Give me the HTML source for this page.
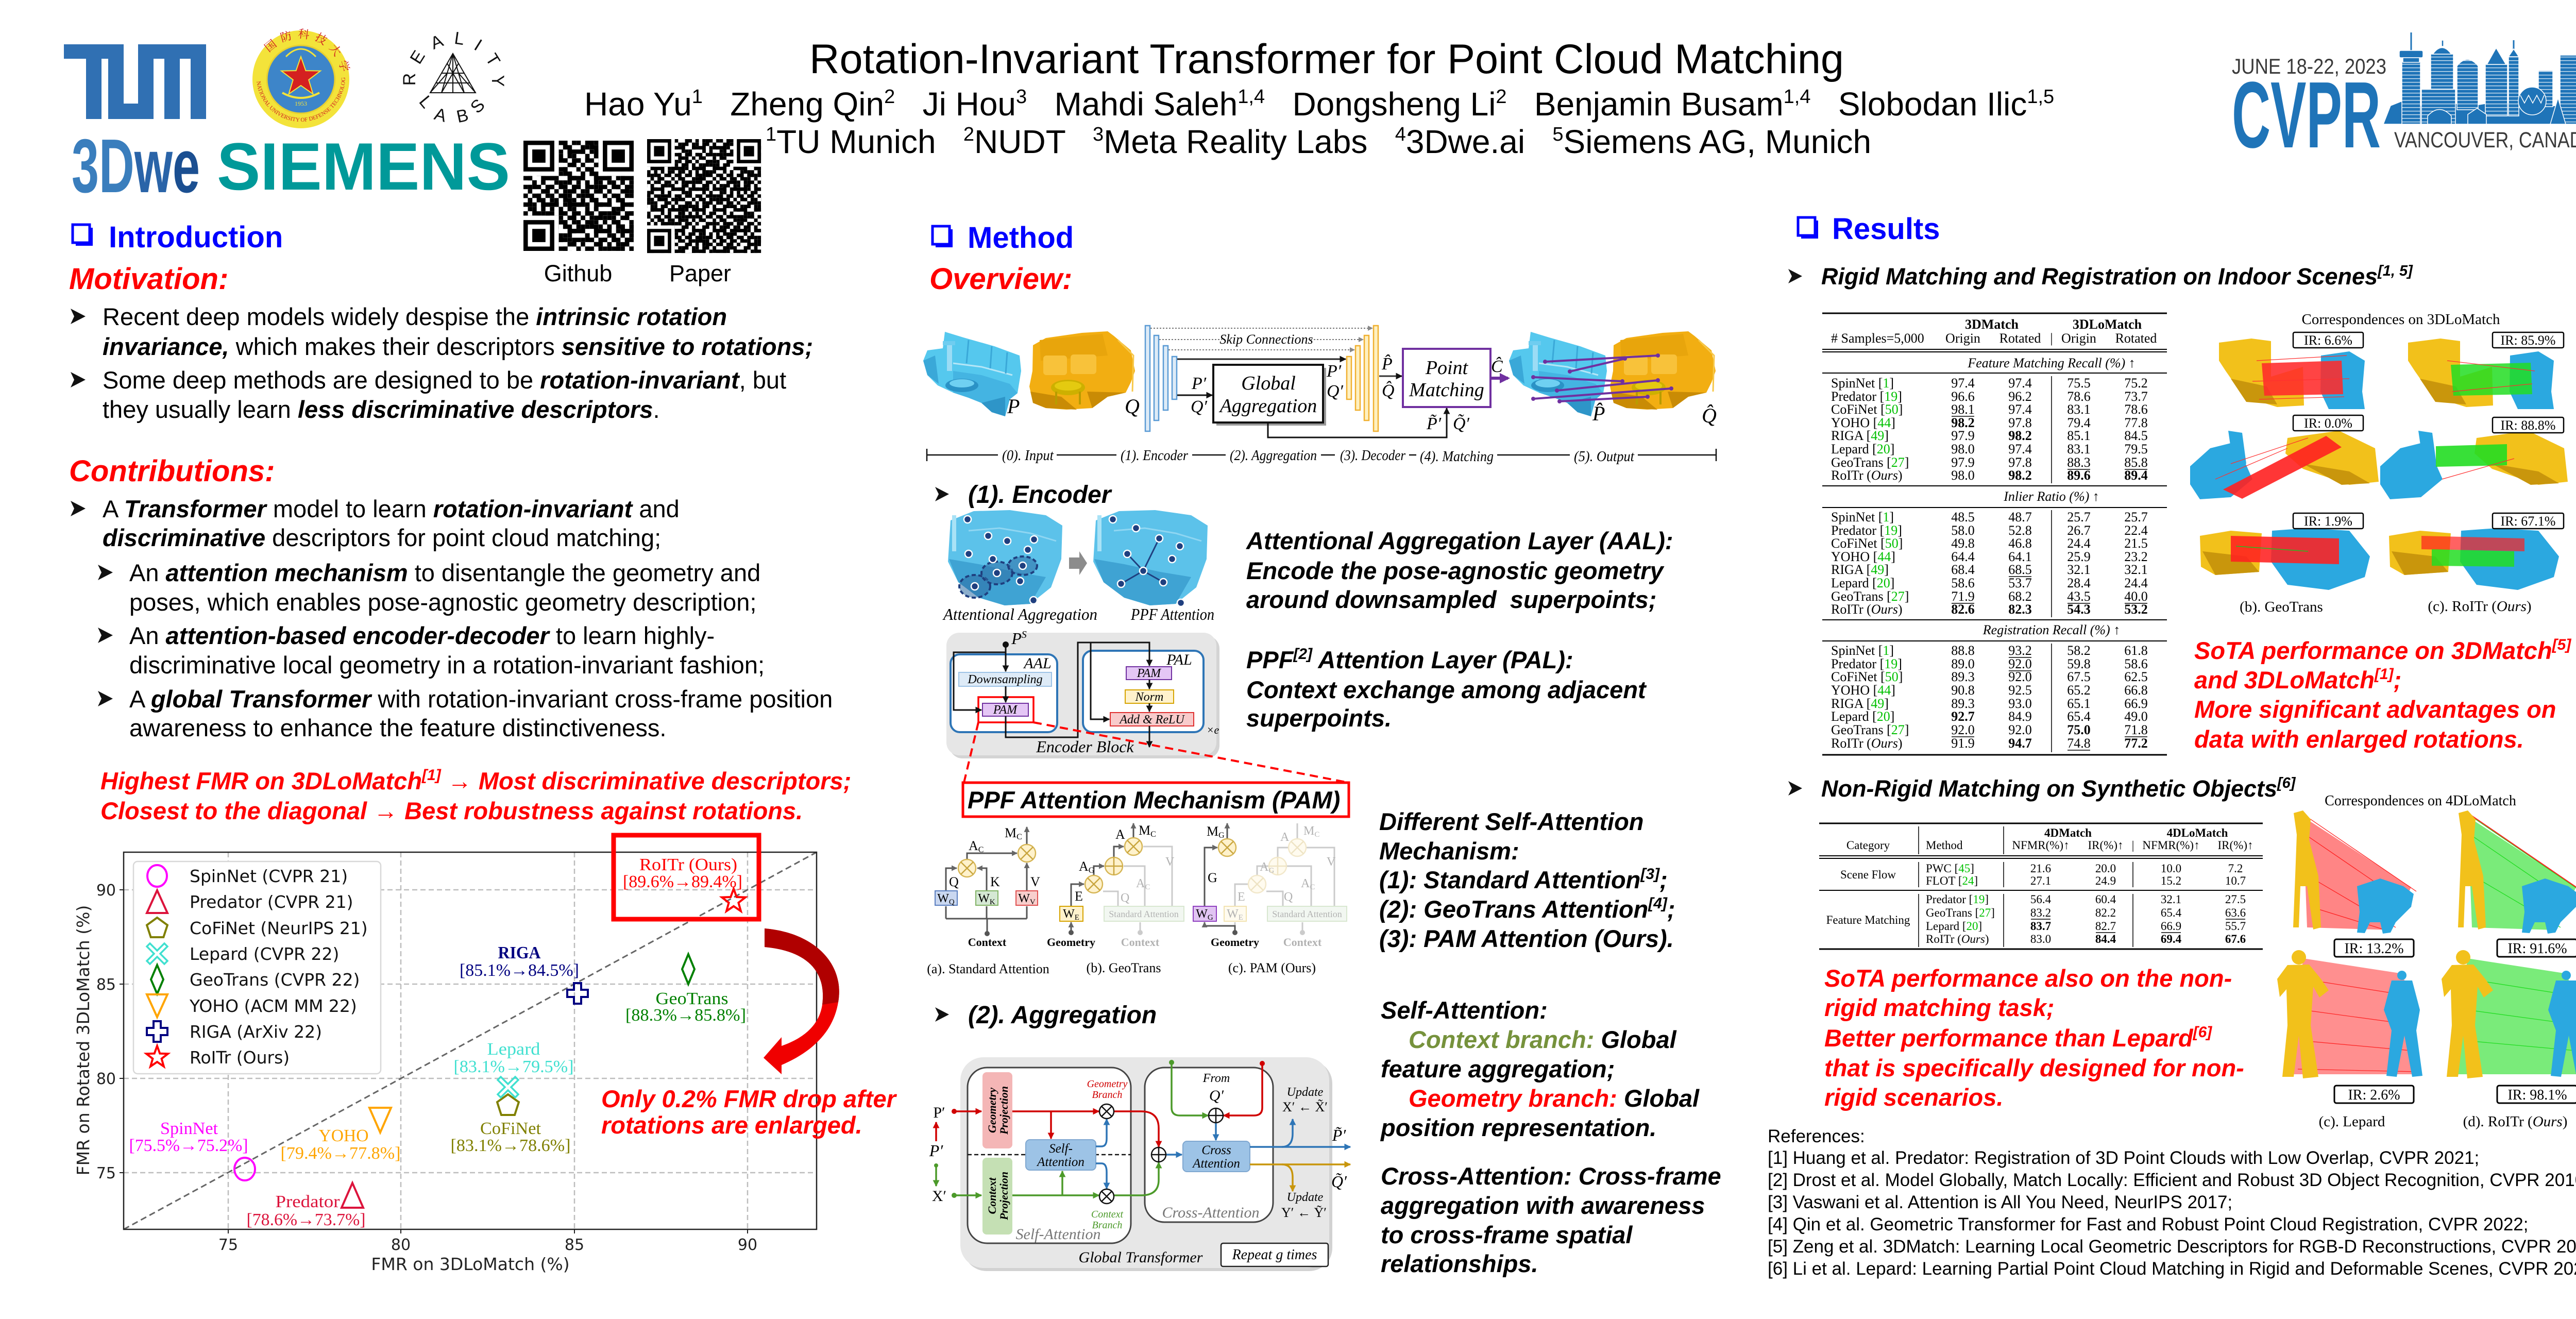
<!DOCTYPE html>
<html><head><meta charset="utf-8"><title>Rotation-Invariant Transformer for Point Cloud Matching</title>
<style>
html,body{margin:0;padding:0;background:#fff;width:5120px;height:2560px;overflow:hidden}
svg{display:block}
.s{font-family:"Liberation Sans",Arial,sans-serif}
.r{font-family:"Liberation Serif","Times New Roman",serif}
.d{font-family:"DejaVu Sans",sans-serif}
.bi{font-weight:bold;font-style:italic}
.b{font-weight:bold}
.i{font-style:italic}
.pre{white-space:pre}
</style></head><body>
<svg xmlns="http://www.w3.org/2000/svg" xmlns:xlink="http://www.w3.org/1999/xlink" width="5120" height="2560" viewBox="0 0 5120 2560">
<defs>
<marker id="mk" viewBox="0 0 10 10" refX="9" refY="5" markerWidth="13" markerHeight="13" markerUnits="userSpaceOnUse" orient="auto"><path d="M0,0L10,5L0,10z" fill="#111"/></marker>
<marker id="mr" viewBox="0 0 10 10" refX="9" refY="5" markerWidth="13" markerHeight="13" markerUnits="userSpaceOnUse" orient="auto"><path d="M0,0L10,5L0,10z" fill="#D00000"/></marker>
<marker id="mg" viewBox="0 0 10 10" refX="9" refY="5" markerWidth="13" markerHeight="13" markerUnits="userSpaceOnUse" orient="auto"><path d="M0,0L10,5L0,10z" fill="#4C9A2A"/></marker>
<marker id="mb" viewBox="0 0 10 10" refX="9" refY="5" markerWidth="13" markerHeight="13" markerUnits="userSpaceOnUse" orient="auto"><path d="M0,0L10,5L0,10z" fill="#2E75B6"/></marker>
<marker id="mo" viewBox="0 0 10 10" refX="9" refY="5" markerWidth="13" markerHeight="13" markerUnits="userSpaceOnUse" orient="auto"><path d="M0,0L10,5L0,10z" fill="#C8960C"/></marker>
<marker id="mp" viewBox="0 0 10 10" refX="8" refY="5" markerWidth="20" markerHeight="20" markerUnits="userSpaceOnUse" orient="auto"><path d="M0,0L10,5L0,10z" fill="#7030A0"/></marker>
<marker id="my" viewBox="0 0 10 10" refX="9" refY="5" markerWidth="11" markerHeight="11" markerUnits="userSpaceOnUse" orient="auto"><path d="M0,0L10,5L0,10z" fill="#666"/></marker>
<marker id="mgr" viewBox="0 0 10 10" refX="9" refY="5" markerWidth="10" markerHeight="10" markerUnits="userSpaceOnUse" orient="auto"><path d="M0,0L10,5L0,10z" fill="#888"/></marker>

<pattern id="qa" width="6" height="6" patternUnits="userSpaceOnUse"><path d="M0 0h1v1h-1zM2 0h2v1h-2zM1 1h1v1h-1zM3 1h2v1h-2zM0 2h2v1h-2zM4 2h2v1h-2zM2 3h1v1h-1zM4 3h1v1h-1zM0 4h1v1h-1zM2 4h2v1h-2zM5 4h1v1h-1zM1 5h1v1h-1zM4 5h2v1h-2z" fill="#000"/></pattern>
<pattern id="qb" width="5" height="5" patternUnits="userSpaceOnUse"><path d="M1 0h1v1h-1zM4 1h1v1h-1zM0 2h1v1h-1zM3 2h1v1h-1zM2 4h1v1h-1zM4 4h1v1h-1zM1 3h1v1h-1z" fill="#000"/></pattern>
<pattern id="win" width="8" height="7" patternUnits="userSpaceOnUse"><rect width="8" height="7" fill="#1F74B8"/><rect y="5" width="8" height="1.3" fill="#fff" opacity="0.85"/></pattern>

<g id="arw"><path d="M0,-15 L29,0 L0,15 L7,0 Z" fill="#111"/></g>
<g id="arwS"><path d="M0,-14 L27,0 L0,14 L7,0 Z" fill="#111"/></g>

<g id="otY"><circle r="17" fill="#FFF2CC" stroke="#D6B656" stroke-width="2.5"/><path d="M-12,-12L12,12M12,-12L-12,12" stroke="#C9A640" stroke-width="2.5"/></g>
<g id="opY"><circle r="17" fill="#FFF2CC" stroke="#D6B656" stroke-width="2.5"/><path d="M-17,0H17M0,-17V17" stroke="#C9A640" stroke-width="2.5"/></g>
<g id="otK"><circle r="14" fill="#fff" stroke="#111" stroke-width="2.5"/><path d="M-10,-10L10,10M10,-10L-10,10" stroke="#111" stroke-width="2.5"/></g>
<g id="opK"><circle r="14" fill="#fff" stroke="#111" stroke-width="2.5"/><path d="M-14,0H14M0,-14V14" stroke="#111" stroke-width="2.5"/></g>

<g id="pcl">
<polygon points="1834,644 1870,655 1930,672 1979,690 1982,720 1975,763 1960,775 1951,808 1925,800 1905,782 1880,772 1850,762 1820,748 1800,728 1792,700 1800,680 1830,676" fill="#55C8EE"/>
<polygon points="1792,700 1815,690 1822,745 1800,728" fill="#3AA8D8"/>
<polygon points="1850,720 1905,728 1960,745 1975,763 1960,775 1951,808 1925,800 1905,782 1880,772 1850,762" fill="#44B4E2"/>
<polygon points="1905,782 1951,770 1951,808 1925,800" fill="#2E95C8"/>
<ellipse cx="1867" cy="748" rx="32" ry="13" fill="#2A92C6"/>
<ellipse cx="1867" cy="744" rx="24" ry="8" fill="#6FD0F2"/>
<rect x="1838" y="665" width="10" height="55" fill="#9BDCF5"/>
<rect x="1830" y="662" width="24" height="8" fill="#6FCDF0"/>
<polyline points="1850,705 1905,712 1965,728" stroke="#B5E6F7" stroke-width="3" fill="none"/>
<path d="M1880,660 L1876,705 M1925,672 L1922,715 M1955,684 L1952,725" stroke="#3AA8D8" stroke-width="3" fill="none"/>
</g>
<g id="qcl">
<polygon points="2005,670 2030,656 2100,646 2150,643 2162,652 2195,680 2203,720 2195,742 2185,762 2150,770 2120,792 2070,795 2030,792 2005,782 1998,750 2004,720" fill="#F2AE12"/>
<polygon points="2018,660 2140,648 2150,690 2020,700" fill="#E8A50C"/>
<rect x="2025" y="690" width="46" height="38" rx="6" fill="#F8C23A"/>
<rect x="2078" y="688" width="50" height="38" rx="6" fill="#F8C23A"/>
<polygon points="2000,760 2060,770 2090,795 2030,792 2005,782" fill="#C98B05"/>
<polygon points="2110,760 2185,762 2150,770 2120,792" fill="#C98B05"/>
<ellipse cx="2073" cy="752" rx="33" ry="15" fill="#CDB000"/>
<ellipse cx="2073" cy="749" rx="26" ry="9" fill="#E4CA10"/>
<path d="M2050,760 V785 M2096,760 V785" stroke="#B89C00" stroke-width="4"/>
<path d="M2170,660 L2200,690 L2198,760" stroke="#F7C84A" stroke-width="3" fill="none"/>
</g>
<g id="enc1">
<polygon points="1845,1010 1890,992 1960,990 2030,1000 2062,1020 2060,1085 2040,1140 2000,1172 1950,1175 1900,1160 1860,1130 1840,1090" fill="#5CC2EA"/>
<polygon points="1842,1085 1900,1095 1970,1110 2030,1120 2000,1172 1950,1175 1900,1160 1860,1130" fill="#3FA3D3"/>
<rect x="1848" y="1000" width="8" height="70" fill="#A9E2F6"/>
<polyline points="1880,1030 1940,1025 2000,1035 2050,1050" stroke="#8FD6F2" stroke-width="3" fill="none"/>
</g>
</defs>

<rect width="5120" height="2560" fill="#fff"/>

<!-- ================= HEADER ================= -->
<g fill="#3070B3">
<rect x="124" y="86" width="116" height="28"/>
<rect x="167" y="86" width="30" height="145"/>
<rect x="210" y="86" width="30" height="145"/>
<rect x="210" y="201" width="88" height="30"/>
<rect x="268" y="86" width="30" height="145"/>
<rect x="268" y="86" width="132" height="28"/>
<rect x="319" y="86" width="30" height="145"/>
<rect x="370" y="86" width="30" height="145"/>
</g>
<g>
<ellipse cx="584" cy="154" rx="94" ry="95" fill="#F3E33A"/>
<circle cx="584" cy="154" r="66" fill="#3D85C9" stroke="#E8D030" stroke-width="3"/>
<path d="M548,180 Q584,200 620,180" stroke="#F3E33A" stroke-width="4" fill="none"/>
<path d="M555,110 Q584,80 613,110" stroke="#F3E33A" stroke-width="3" fill="none"/>
<polygon points="584,110 593.4,137.1 622,137.6 599.2,154.9 607.5,182.4 584,166 560.5,182.4 568.8,154.9 546,137.6 574.6,137.1" fill="#D42020" stroke="#F3E33A" stroke-width="2"/>
<text class="r" x="584" y="205" font-size="12" fill="#F3E33A" text-anchor="middle">1953</text>
<path id="nudtc" d="M 504,154 A 80,80 0 1,1 664,154" fill="none"/>
<path id="nudtb" d="M 498,150 A 86,86 0 0,0 670,150" fill="none"/>
<text font-size="22" fill="#D02020" style='font-family:"Liberation Serif","Noto Serif CJK SC",serif' letter-spacing="10"><textPath href="#nudtc" startOffset="22%">国防科技大学</textPath></text>
<text class="r" font-size="11" fill="#D02020"><textPath href="#nudtb" startOffset="3%">NATIONAL UNIVERSITY OF DEFENSE TECHNOLOGY</textPath></text>
</g>
<g class="s" font-size="34" fill="#111" text-anchor="middle">
<path d="M835,180 L879,104 L923,180 Z M879,104 L857,180 M879,104 L901,180 M879,104 L879,180 M846,161 L912,161 M857,142 L901,142 M835,180 L868,142 M923,180 L890,142 M857,180 L890,123 M901,180 L868,123" stroke="#111" stroke-width="2" fill="none"/>
<text transform="translate(806,154) rotate(-90)">R</text>
<text transform="translate(820,117) rotate(-58)">E</text>
<text transform="translate(852,92) rotate(-22)">A</text>
<text transform="translate(890,86) rotate(8)">L</text>
<text transform="translate(922,97) rotate(32)">I</text>
<text transform="translate(947,122) rotate(58)">T</text>
<text transform="translate(955,157) rotate(90)">Y</text>
<text transform="translate(818,205) rotate(50)">L</text>
<text transform="translate(852,234) rotate(15)">A</text>
<text transform="translate(900,236) rotate(-12)">B</text>
<text transform="translate(935,214) rotate(-45)">S</text>
</g>
<text class="s b" x="139" y="373" font-size="148" textLength="249" lengthAdjust="spacingAndGlyphs"><tspan fill="#3A7EBD">3D</tspan><tspan fill="#2A64A8">w</tspan><tspan fill="#1B4F91">e</tspan></text>
<text class="s b" x="421" y="368" font-size="130" fill="#009999" textLength="569" lengthAdjust="spacingAndGlyphs">SIEMENS</text>
<g transform="translate(1016,273) scale(8.56)">
<rect width="25" height="25" fill="url(#qa)"/><rect width="25" height="25" fill="url(#qb)"/>
<rect x="0" y="0" width="8" height="8" fill="#fff"/><rect x="17" y="0" width="8" height="8" fill="#fff"/><rect x="0" y="17" width="8" height="8" fill="#fff"/>
<path d="M0 0h7v7h-7zM1 1v5h5v-5zM18 0h7v7h-7zM19 1v5h5v-5zM0 18h7v7h-7zM1 19v5h5v-5z" fill="#000" fill-rule="evenodd"/>
<rect x="2" y="2" width="3" height="3"/><rect x="20" y="2" width="3" height="3"/><rect x="2" y="20" width="3" height="3"/>
</g>
<g transform="translate(1256,270) scale(6.7)">
<rect width="33" height="33" fill="url(#qb)"/><rect width="33" height="33" fill="url(#qa)" transform="translate(33,0) scale(-1,1)"/>
<rect x="0" y="0" width="8" height="8" fill="#fff"/><rect x="25" y="0" width="8" height="8" fill="#fff"/><rect x="0" y="25" width="8" height="8" fill="#fff"/>
<path d="M0 0h7v7h-7zM1 1v5h5v-5zM26 0h7v7h-7zM27 1v5h5v-5zM0 26h7v7h-7zM1 27v5h5v-5z" fill="#000" fill-rule="evenodd"/>
<rect x="2" y="2" width="3" height="3"/><rect x="28" y="2" width="3" height="3"/><rect x="2" y="28" width="3" height="3"/>
</g>
<text class="s" x="1122" y="546" font-size="45" text-anchor="middle">Github</text>
<text class="s" x="1359" y="546" font-size="45" text-anchor="middle">Paper</text>

<text class="s" x="2575" y="142" font-size="81" text-anchor="middle">Rotation-Invariant Transformer for Point Cloud Matching</text>
<text class="s pre" x="1134" y="224" font-size="64">Hao Yu<tspan font-size="38" dy="-24">1</tspan><tspan dy="24">   Zheng Qin</tspan><tspan font-size="38" dy="-24">2</tspan><tspan dy="24">   Ji Hou</tspan><tspan font-size="38" dy="-24">3</tspan><tspan dy="24">   Mahdi Saleh</tspan><tspan font-size="38" dy="-24">1,4</tspan><tspan dy="24">   Dongsheng Li</tspan><tspan font-size="38" dy="-24">2</tspan><tspan dy="24">   Benjamin Busam</tspan><tspan font-size="38" dy="-24">1,4</tspan><tspan dy="24">   Slobodan Ilic</tspan><tspan font-size="38" dy="-24">1,5</tspan></text>
<text class="s pre" x="1486" y="297" font-size="64"><tspan font-size="38" dy="-24">1</tspan><tspan dy="24">TU Munich   </tspan><tspan font-size="38" dy="-24">2</tspan><tspan dy="24">NUDT   </tspan><tspan font-size="38" dy="-24">3</tspan><tspan dy="24">Meta Reality Labs   </tspan><tspan font-size="38" dy="-24">4</tspan><tspan dy="24">3Dwe.ai   </tspan><tspan font-size="38" dy="-24">5</tspan><tspan dy="24">Siemens AG, Munich</tspan></text>

<text class="s" x="4332" y="143" font-size="42" fill="#3A3A3A" textLength="300" lengthAdjust="spacingAndGlyphs">JUNE 18-22, 2023</text>
<text class="s b" x="4332" y="286" font-size="183" fill="#1F74B8" textLength="289" lengthAdjust="spacingAndGlyphs">CVPR</text>
<text class="s" x="4647" y="286" font-size="43" fill="#3A3A3A" textLength="390" lengthAdjust="spacingAndGlyphs">VANCOUVER, CANADA</text>
<g stroke="#fff" stroke-width="1.5">
<line x1="4680" y1="63" x2="4680" y2="98" stroke="#1F74B8" stroke-width="3"/>
<line x1="4879" y1="78" x2="4879" y2="96" stroke="#1F74B8" stroke-width="3"/>
<polygon points="4626,241 4640,205 4665,195 4700,205 4760,200 4800,205 4830,200 4870,200 4900,208 4960,205 5044,215 5044,241" fill="#1F74B8"/>
<rect x="4662" y="120" width="36" height="121" fill="url(#win)"/>
<rect x="4657" y="98" width="46" height="14" rx="3" fill="#1F74B8"/>
<rect x="4664" y="112" width="32" height="9" fill="#1F74B8"/>
<rect x="4718" y="105" width="44" height="68" fill="url(#win)"/>
<path d="M4722,105 Q4740,80 4758,105 Z" fill="#1F74B8"/>
<rect x="4739" y="78" width="4" height="12" fill="#1F74B8"/>
<rect x="4700" y="173" width="66" height="68" fill="url(#win)"/>
<path d="M4769,213 V128 Q4789,103 4810,128 V213 Z" fill="url(#win)"/>
<rect x="4824" y="125" width="43" height="100" fill="url(#win)"/>
<path d="M4827,125 L4845,93 L4864,125 Z" fill="#1F74B8"/>
<rect x="4869" y="110" width="20" height="115" fill="url(#win)"/>
<path d="M4869,110 L4879,95 L4889,110 Z" fill="#1F74B8"/>
<rect x="4927" y="137" width="28" height="70" fill="url(#win)"/>
<circle cx="4915" cy="196" r="27" fill="#1F74B8"/>
<path d="M4892,185 L4900,200 L4908,185 L4916,200 L4924,185 L4932,200 L4938,185" fill="none"/>
<rect x="4969" y="107" width="38" height="134" fill="url(#win)"/>
<rect x="5002" y="137" width="42" height="104" fill="url(#win)"/>
<path d="M4712,241 V225 Q4735,200 4758,225 V241 Z" fill="#1F74B8"/>
<path d="M4790,241 V222 L4808,210 L4826,222 V241 Z" fill="#1F74B8"/>
<path d="M4950,241 L4965,190 L4980,241 Z" fill="#1F74B8"/>
</g>

<!-- ================= LEFT COLUMN ================= -->
<rect x="147" y="442" width="33" height="35" fill="#0000FF"/>
<rect x="141" y="436" width="33" height="35" fill="#fff" stroke="#0000FF" stroke-width="5"/>
<text class="s b" x="211" y="480" font-size="58" fill="#0000FF">Introduction</text>
<text class="s bi" x="134" y="561" font-size="58" fill="#FF0000">Motivation:</text>

<g class="s" font-size="47" fill="#000">
<use href="#arw" x="137" y="614"/>
<text x="199" y="631">Recent deep models widely despise the <tspan class="bi">intrinsic rotation</tspan></text>
<text x="199" y="689"><tspan class="bi">invariance,</tspan> which makes their descriptors <tspan class="bi">sensitive to rotations;</tspan></text>
<use href="#arw" x="137" y="737"/>
<text x="199" y="754">Some deep methods are designed to be <tspan class="bi">rotation-invariant</tspan>, but</text>
<text x="199" y="811">they usually learn <tspan class="bi">less discriminative descriptors</tspan>.</text>
</g>
<text class="s bi" x="134" y="934" font-size="58" fill="#FF0000">Contributions:</text>
<g class="s" font-size="47" fill="#000">
<use href="#arw" x="137" y="987"/>
<text x="199" y="1004">A <tspan class="bi">Transformer</tspan> model to learn <tspan class="bi">rotation-invariant</tspan> and</text>
<text x="199" y="1060"><tspan class="bi">discriminative</tspan> descriptors for point cloud matching;</text>
<use href="#arw" x="190" y="1111"/>
<text x="251" y="1128">An <tspan class="bi">attention mechanism</tspan> to disentangle the geometry and</text>
<text x="251" y="1185">poses, which enables pose-agnostic geometry description;</text>
<use href="#arw" x="190" y="1233"/>
<text x="251" y="1250">An <tspan class="bi">attention-based encoder-decoder</tspan> to learn highly-</text>
<text x="251" y="1307">discriminative local geometry in a rotation-invariant fashion;</text>
<use href="#arw" x="190" y="1356"/>
<text x="251" y="1373">A <tspan class="bi">global Transformer</tspan> with rotation-invariant cross-frame position</text>
<text x="251" y="1429">awareness to enhance the feature distinctiveness.</text>
</g>
<g class="s bi" font-size="47" fill="#FF0000">
<text x="195" y="1532">Highest FMR on 3DLoMatch<tspan font-size="30" dy="-18">[1]</tspan><tspan dy="18"> → Most discriminative descriptors;</tspan></text>
<text x="195" y="1590">Closest to the diagonal → Best robustness against rotations.</text>
</g>

<!-- CHART -->
<g>
<g stroke="#BDBDBD" stroke-width="2.5" stroke-dasharray="10,6">
<line x1="443" y1="1654" x2="443" y2="2386"/><line x1="778" y1="1654" x2="778" y2="2386"/><line x1="1115" y1="1654" x2="1115" y2="2386"/><line x1="1451" y1="1654" x2="1451" y2="2386"/>
<line x1="240" y1="1727" x2="1585" y2="1727"/><line x1="240" y1="1910" x2="1585" y2="1910"/><line x1="240" y1="2093" x2="1585" y2="2093"/><line x1="240" y1="2276" x2="1585" y2="2276"/>
</g>
<line x1="240" y1="2386" x2="1585" y2="1654" stroke="#666" stroke-width="3" stroke-dasharray="12,7"/>
<rect x="240" y="1654" width="1345" height="732" fill="none" stroke="#222" stroke-width="2.5"/>
<g stroke="#222" stroke-width="2">
<line x1="443" y1="2386" x2="443" y2="2394"/><line x1="778" y1="2386" x2="778" y2="2394"/><line x1="1115" y1="2386" x2="1115" y2="2394"/><line x1="1451" y1="2386" x2="1451" y2="2394"/>
<line x1="232" y1="1727" x2="240" y2="1727"/><line x1="232" y1="1910" x2="240" y2="1910"/><line x1="232" y1="2093" x2="240" y2="2093"/><line x1="232" y1="2276" x2="240" y2="2276"/>
</g>
<g class="d" font-size="30" fill="#222">
<text x="443" y="2426" text-anchor="middle">75</text><text x="778" y="2426" text-anchor="middle">80</text><text x="1115" y="2426" text-anchor="middle">85</text><text x="1451" y="2426" text-anchor="middle">90</text>
<text x="225" y="1738" text-anchor="end">90</text><text x="225" y="1921" text-anchor="end">85</text><text x="225" y="2104" text-anchor="end">80</text><text x="225" y="2287" text-anchor="end">75</text>
</g>
<text class="d" x="913" y="2465" font-size="33" text-anchor="middle" fill="#222">FMR on 3DLoMatch (%)</text>
<text class="d" transform="translate(173,2019) rotate(-90)" font-size="33" text-anchor="middle" fill="#222">FMR on Rotated 3DLoMatch (%)</text>

<rect x="259" y="1672" width="480" height="412" rx="8" fill="#fff" stroke="#D8D8D8" stroke-width="2.5"/>
<g stroke-width="4" fill="none">
<ellipse cx="305" cy="1700" rx="19" ry="21" stroke="#FF00FF"/>
<polygon transform="translate(305,1752)" points="0,-24 20,20 -20,20" stroke="#DC143C"/>
<polygon transform="translate(305,1802)" points="0,-21 20,-6.5 12.3,17 -12.3,17 -20,-6.5" stroke="#808000"/>
<path transform="translate(305,1851)" d="M-20,-14 L-14,-20 L0,-6 L14,-20 L20,-14 L6,0 L20,14 L14,20 L0,6 L-14,20 L-20,14 L-6,0 Z" stroke="#40E0D0" stroke-width="3.5"/>
<polygon transform="translate(305,1901)" points="0,-28 12,0 0,28 -12,0" stroke="#008000"/>
<polygon transform="translate(305,1950)" points="0,24 20,-20 -20,-20" stroke="#FFA500"/>
<path transform="translate(305,2002)" d="M-7,-20 H7 V-7 H20 V7 H7 V20 H-7 V7 H-20 V-7 H-7 Z" stroke="#000080"/>
<polygon transform="translate(305,2052)" points="0,-22 5.3,-7.3 20.9,-6.8 8.6,2.8 12.9,17.8 0,9 -12.9,17.8 -8.6,2.8 -20.9,-6.8 -5.3,-7.3" stroke="#FF0000"/>
</g>
<g class="d" font-size="33" fill="#111">
<text x="368" y="1712">SpinNet (CVPR 21)</text>
<text x="368" y="1762">Predator (CVPR 21)</text>
<text x="368" y="1813">CoFiNet (NeurIPS 21)</text>
<text x="368" y="1863">Lepard (CVPR 22)</text>
<text x="368" y="1913">GeoTrans (CVPR 22)</text>
<text x="368" y="1964">YOHO (ACM MM 22)</text>
<text x="368" y="2014">RIGA (ArXiv 22)</text>
<text x="368" y="2064">RoITr (Ours)</text>
</g>
<g stroke-width="4" fill="none">
<ellipse cx="475" cy="2269" rx="20" ry="22" stroke="#FF00FF"/>
<polygon transform="translate(684,2322)" points="0,-26 21,22 -21,22" stroke="#DC143C"/>
<polygon transform="translate(738,2172)" points="0,26 21,-22 -21,-22" stroke="#FFA500"/>
<polygon transform="translate(986,2146)" points="0,-22 21,-7 13,18 -13,18 -21,-7" stroke="#808000"/>
<path transform="translate(986,2110)" d="M-20,-14 L-14,-20 L0,-6 L14,-20 L20,-14 L6,0 L20,14 L14,20 L0,6 L-14,20 L-20,14 L-6,0 Z" stroke="#40E0D0" stroke-width="3.5"/>
<path transform="translate(1121,1928)" d="M-7,-20 H7 V-7 H20 V7 H7 V20 H-7 V7 H-20 V-7 H-7 Z" stroke="#000080"/>
<polygon transform="translate(1336,1881)" points="0,-29 12,0 0,29 -12,0" stroke="#008000"/>
<polygon transform="translate(1424,1749)" points="0,-24 5.8,-8 22.8,-7.4 9.4,3 14,19.4 0,9.8 -14,19.4 -9.4,3 -22.8,-7.4 -5.8,-8" stroke="#FF0000"/>
</g>
<g class="r" font-size="34" text-anchor="middle">
<text x="367" y="2201" fill="#FF00FF" textLength="112" lengthAdjust="spacingAndGlyphs">SpinNet</text>
<text x="366" y="2234" fill="#FF00FF" textLength="231" lengthAdjust="spacingAndGlyphs">[75.5%→75.2%]</text>
<text x="597" y="2343" fill="#DC143C" textLength="125" lengthAdjust="spacingAndGlyphs">Predator</text>
<text x="594" y="2378" fill="#DC143C" textLength="231" lengthAdjust="spacingAndGlyphs">[78.6%→73.7%]</text>
<text x="667" y="2215" fill="#FFA500" textLength="97" lengthAdjust="spacingAndGlyphs">YOHO</text>
<text x="661" y="2249" fill="#FFA500" textLength="233" lengthAdjust="spacingAndGlyphs">[79.4%→77.8%]</text>
<text x="991" y="2201" fill="#808000" textLength="118" lengthAdjust="spacingAndGlyphs">CoFiNet</text>
<text x="991" y="2234" fill="#808000" textLength="233" lengthAdjust="spacingAndGlyphs">[83.1%→78.6%]</text>
<text x="997" y="2047" fill="#40E0D0" textLength="103" lengthAdjust="spacingAndGlyphs">Lepard</text>
<text x="997" y="2081" fill="#40E0D0" textLength="233" lengthAdjust="spacingAndGlyphs">[83.1%→79.5%]</text>
<text x="1008" y="1860" fill="#000080" font-weight="bold" textLength="83" lengthAdjust="spacingAndGlyphs">RIGA</text>
<text x="1008" y="1894" fill="#000080" textLength="232" lengthAdjust="spacingAndGlyphs">[85.1%→84.5%]</text>
<text x="1343" y="1949" fill="#008000" textLength="141" lengthAdjust="spacingAndGlyphs">GeoTrans</text>
<text x="1331" y="1981" fill="#008000" textLength="234" lengthAdjust="spacingAndGlyphs">[88.3%→85.8%]</text>
<text x="1336" y="1689" fill="#FF0000" textLength="190" lengthAdjust="spacingAndGlyphs">RoITr (Ours)</text>
<text x="1325" y="1722" fill="#FF0000" textLength="232" lengthAdjust="spacingAndGlyphs">[89.6%→89.4%]</text>
</g>
<rect x="1191" y="1621" width="282" height="163" fill="none" stroke="#FF0000" stroke-width="9"/>
<path d="M1484,1802 C1580,1810 1640,1870 1627,1945 C1618,2000 1580,2040 1517,2067 L1517,2085 L1482,2053 L1517,2013 L1517,2030 C1560,2015 1590,1990 1596,1950 C1605,1880 1560,1845 1484,1838 Z" fill="#F00000"/>
<path d="M1484,1802 C1580,1810 1640,1870 1627,1945 L1596,1950 C1605,1880 1560,1845 1484,1838 Z" fill="#B00000"/>
<g class="s bi" font-size="47" fill="#FF0000">
<text x="1167" y="2149">Only 0.2% FMR drop after</text>
<text x="1167" y="2200">rotations are enlarged.</text>
</g>
</g>

<!-- ================= MIDDLE COLUMN ================= -->
<rect x="1816" y="445" width="33" height="35" fill="#0000FF"/>
<rect x="1810" y="439" width="33" height="35" fill="#fff" stroke="#0000FF" stroke-width="5"/>
<text class="s b" x="1878" y="481" font-size="58" fill="#0000FF">Method</text>
<text class="s bi" x="1804" y="561" font-size="58" fill="#FF0000">Overview:</text>

<use href="#pcl"/>
<use href="#qcl"/>
<g class="r i" font-size="40">
<text x="1955" y="802">P</text><text x="2183" y="802">Q</text>
</g>
<g stroke-width="2.5">
<rect x="2223" y="632" width="9" height="205" fill="#DDEBF7" stroke="#5B9BD5"/>
<rect x="2240" y="651" width="9" height="165" fill="#DDEBF7" stroke="#5B9BD5"/>
<rect x="2258" y="671" width="9" height="125" fill="#DDEBF7" stroke="#5B9BD5"/>
<rect x="2275" y="692" width="9" height="83" fill="#DDEBF7" stroke="#5B9BD5"/>
<rect x="2614" y="692" width="9" height="83" fill="#FFF0C0" stroke="#F0B030"/>
<rect x="2631" y="671" width="9" height="125" fill="#FFF0C0" stroke="#F0B030"/>
<rect x="2648" y="651" width="9" height="165" fill="#FFF0C0" stroke="#F0B030"/>
<rect x="2666" y="632" width="9" height="205" fill="#FFF0C0" stroke="#F0B030"/>
</g>
<g stroke="#777" stroke-width="2" stroke-dasharray="3,3" fill="none">
<line x1="2233" y1="637" x2="2664" y2="637" marker-end="url(#mgr)"/>
<line x1="2250" y1="659" x2="2646" y2="659" marker-end="url(#mgr)"/>
<line x1="2268" y1="679" x2="2629" y2="679" marker-end="url(#mgr)"/>
</g>
<line x1="2285" y1="697" x2="2612" y2="697" stroke="#222" stroke-width="3" marker-end="url(#mk)"/>
<rect x="2372" y="646" width="172" height="26" fill="#fff"/>
<text class="r i" x="2458" y="667" font-size="26" text-anchor="middle">Skip Connections</text>
<line x1="2285" y1="767" x2="2353" y2="767" stroke="#111" stroke-width="3" marker-end="url(#mk)"/>
<rect x="2361" y="714" width="213" height="112" fill="#999"/>
<rect x="2355" y="708" width="213" height="112" fill="#fff" stroke="#111" stroke-width="4"/>
<g class="r i" font-size="38" text-anchor="middle">
<text x="2462" y="756">Global</text><text x="2462" y="800">Aggregation</text>
</g>
<g class="r i" font-size="34">
<text x="2313" y="755">P′</text><text x="2311" y="800">Q′</text>
<text x="2575" y="731">P′</text><text x="2575" y="770">Q′</text>
<text x="2682" y="717">P̂</text><text x="2682" y="769">Q̂</text>
<text x="2894" y="722">Ĉ</text>
<text x="2769" y="833">P̃′</text><text x="2820" y="833">Q̃′</text>
</g>
<line x1="2677" y1="730" x2="2721" y2="730" stroke="#333" stroke-width="3" marker-end="url(#mk)"/>
<rect x="2723" y="677" width="170" height="113" fill="#fff" stroke="#7030A0" stroke-width="4"/>
<g class="r i" font-size="38" text-anchor="middle"><text x="2808" y="726">Point</text><text x="2808" y="769">Matching</text></g>
<line x1="2893" y1="734" x2="2927" y2="734" stroke="#7030A0" stroke-width="6" marker-end="url(#mp)"/>
<polyline points="2461,820 2461,849 2808,849 2808,792" fill="none" stroke="#111" stroke-width="3" marker-end="url(#mk)"/>
<use href="#pcl" x="1137"/>
<use href="#qcl" x="1127"/>
<g stroke="#7030A0" stroke-width="4">
<line x1="2999" y1="702" x2="3218" y2="690"/><line x1="3047" y1="721" x2="3154" y2="696"/>
<line x1="2976" y1="732" x2="3149" y2="740"/><line x1="3022" y1="758" x2="3218" y2="738"/>
<line x1="2976" y1="774" x2="3244" y2="754"/><line x1="3027" y1="779" x2="3198" y2="770"/>
</g>
<g fill="#7030A0">
<circle cx="2999" cy="702" r="4"/><circle cx="3218" cy="690" r="4"/><circle cx="3047" cy="721" r="4"/><circle cx="3154" cy="696" r="4"/>
<circle cx="2976" cy="732" r="4"/><circle cx="3149" cy="740" r="4"/><circle cx="3022" cy="758" r="4"/><circle cx="3218" cy="738" r="4"/>
<circle cx="2976" cy="774" r="4"/><circle cx="3244" cy="754" r="4"/><circle cx="3027" cy="779" r="4"/><circle cx="3198" cy="770" r="4"/>
</g>
<g class="r i" font-size="40"><text x="3091" y="816">P̂</text><text x="3303" y="820">Q̂</text></g>
<g stroke="#111" stroke-width="2.5">
<line x1="1799" y1="871" x2="1799" y2="895"/><line x1="3331" y1="871" x2="3331" y2="895"/>
<line x1="1799" y1="883" x2="1937" y2="883"/><line x1="2051" y1="883" x2="2167" y2="883"/>
<line x1="2314" y1="883" x2="2379" y2="883"/><line x1="2564" y1="883" x2="2591" y2="883"/>
<line x1="2735" y1="883" x2="2749" y2="883"/><line x1="2906" y1="883" x2="3047" y2="883"/>
<line x1="3179" y1="883" x2="3331" y2="883"/>
</g>
<g class="r i" font-size="28">
<text x="1945" y="893" textLength="100" lengthAdjust="spacingAndGlyphs">(0). Input</text>
<text x="2175" y="893" textLength="131" lengthAdjust="spacingAndGlyphs">(1). Encoder</text>
<text x="2387" y="893" textLength="169" lengthAdjust="spacingAndGlyphs">(2). Aggregation</text>
<text x="2601" y="893" textLength="127" lengthAdjust="spacingAndGlyphs">(3). Decoder</text>
<text x="2756" y="895" textLength="143" lengthAdjust="spacingAndGlyphs">(4). Matching</text>
<text x="3055" y="895" textLength="117" lengthAdjust="spacingAndGlyphs">(5). Output</text>
</g>

<!-- (1) Encoder -->
<use href="#arwS" x="1815" y="959"/>
<text class="s bi" x="1879" y="976" font-size="48">(1). Encoder</text>
<use href="#enc1"/>
<use href="#enc1" x="282"/>
<g fill="#2E6DA4" fill-opacity="0.55" stroke="#1F3F7F" stroke-width="4" stroke-dasharray="8,5">
<ellipse cx="1892" cy="1138" rx="30" ry="22"/><ellipse cx="1935" cy="1112" rx="30" ry="22"/><ellipse cx="1985" cy="1098" rx="28" ry="18"/>
</g>
<g fill="#1F3F7F" stroke="#fff" stroke-width="2.5">
<circle cx="1878" cy="1008" r="7"/><circle cx="1918" cy="1040" r="7"/><circle cx="1955" cy="1050" r="7"/><circle cx="1880" cy="1075" r="7"/><circle cx="1927" cy="1085" r="7"/><circle cx="1995" cy="1067" r="7"/><circle cx="2007" cy="1047" r="7"/><circle cx="1892" cy="1138" r="7"/><circle cx="1935" cy="1112" r="7"/><circle cx="1985" cy="1098" r="7"/><circle cx="1980" cy="1128" r="7"/><circle cx="2006" cy="1165" r="7"/>
</g>
<g stroke="#1F3F7F" stroke-width="3"><line x1="2219" y1="1108" x2="2188" y2="1075"/><line x1="2219" y1="1108" x2="2258" y2="1130"/><line x1="2219" y1="1108" x2="2176" y2="1133"/><line x1="2219" y1="1108" x2="2250" y2="1045"/></g>
<g fill="#1F3F7F" stroke="#fff" stroke-width="2.5">
<circle cx="2160" cy="1008" r="7"/><circle cx="2205" cy="1025" r="7"/><circle cx="2250" cy="1045" r="7"/><circle cx="2188" cy="1075" r="7"/><circle cx="2275" cy="1085" r="7"/><circle cx="2219" cy="1108" r="7"/><circle cx="2258" cy="1130" r="7"/><circle cx="2176" cy="1133" r="7"/><circle cx="2290" cy="1060" r="7"/><circle cx="2292" cy="1170" r="7"/>
</g>
<polygon points="2075,1082 2095,1082 2095,1070 2110,1093 2095,1116 2095,1104 2075,1104" fill="#8C8C8C"/>
<g class="r i" font-size="32">
<text x="1831" y="1203" textLength="299" lengthAdjust="spacingAndGlyphs">Attentional Aggregation</text>
<text x="2195" y="1203" textLength="162" lengthAdjust="spacingAndGlyphs">PPF Attention</text>
</g>
<rect x="1843" y="1234" width="524" height="238" rx="25" fill="#D4D4D4"/>
<rect x="1837" y="1228" width="524" height="238" rx="25" fill="#E6E6E6"/>
<rect x="1845" y="1270" width="207" height="151" rx="18" fill="#fff" stroke="#2E75B6" stroke-width="4"/>
<rect x="2102" y="1263" width="234" height="158" rx="18" fill="#fff" stroke="#2E75B6" stroke-width="4"/>
<rect x="1861" y="1305" width="180" height="27" fill="#DEEBF7" stroke="#9DC3E6" stroke-width="2"/>
<rect x="1907" y="1365" width="89" height="25" fill="#E4C6F5" stroke="#7030A0" stroke-width="2"/>
<rect x="1899" y="1353" width="107" height="49" fill="none" stroke="#FF0000" stroke-width="3.5"/>
<rect x="2186" y="1294" width="88" height="25" fill="#E4C6F5" stroke="#7030A0" stroke-width="2"/>
<rect x="2184" y="1339" width="94" height="26" fill="#FFF2CC" stroke="#D6A400" stroke-width="2"/>
<rect x="2155" y="1383" width="162" height="26" fill="#F8CBCB" stroke="#E03030" stroke-width="2"/>
<g stroke="#111" stroke-width="3" fill="none">
<path d="M1952,1251 V1303" marker-end="url(#mk)"/>
<path d="M1952,1332 V1363" marker-end="url(#mk)"/>
<path d="M1952,1266 H1851 V1378 H1905" marker-end="url(#mk)"/>
<path d="M1952,1390 V1431 H2092 V1247 H2231 V1292" marker-end="url(#mk)"/>
<path d="M2117,1247 V1396 H2153" marker-end="url(#mk)"/>
<path d="M2231,1319 V1337" marker-end="url(#mk)"/>
<path d="M2231,1365 V1381" marker-end="url(#mk)"/>
<path d="M2231,1409 V1450" marker-end="url(#mk)"/>
</g>
<circle cx="1952" cy="1251" r="6" fill="#111"/>
<g class="r i" text-anchor="middle">
<text x="1978" y="1250" font-size="32">P<tspan font-size="20" dy="-12">S</tspan></text>
<text x="2014" y="1297" font-size="30">AAL</text>
<text x="2289" y="1290" font-size="30">PAL</text>
<text x="1951" y="1326" font-size="24">Downsampling</text>
<text x="1951" y="1385" font-size="24">PAM</text>
<text x="2230" y="1314" font-size="24">PAM</text>
<text x="2231" y="1360" font-size="24">Norm</text>
<text x="2236" y="1404" font-size="24">Add &amp; ReLU</text>
<text x="2354" y="1424" font-size="22">×e</text>
<text x="2106" y="1460" font-size="32">Encoder Block</text>
</g>
<g stroke="#FF0000" stroke-width="4" stroke-dasharray="16,10">
<line x1="1899" y1="1402" x2="1871" y2="1519"/><line x1="2006" y1="1402" x2="2618" y2="1519"/>
</g>

<!-- PAM -->
<rect x="1869" y="1519" width="749" height="66" fill="#fff" stroke="#FF0000" stroke-width="5"/>
<text class="s bi" x="1878" y="1569" font-size="47">PPF Attention Mechanism (PAM)</text>
<g class="r" font-size="24">
<g stroke="#555" stroke-width="3" fill="none">
<path d="M1916,1812 V1783 M1836,1783 H1993 M1836,1783 V1759 M1915,1783 V1759 M1993,1783 V1759"/>
<path d="M1836,1729 V1685 H1857" marker-end="url(#my)"/>
<path d="M1915,1729 V1685 H1897" marker-end="url(#my)"/>
<path d="M1877,1668 V1656 H1974" marker-end="url(#my)"/>
<path d="M1993,1729 V1675" marker-end="url(#my)"/>
<path d="M1993,1639 V1605" marker-end="url(#my)"/>
</g>
<circle cx="1916" cy="1812" r="5" fill="#555"/>
<rect x="1815" y="1729" width="43" height="28" fill="#C9D7F0" stroke="#5B7FC0" stroke-width="2"/>
<rect x="1894" y="1729" width="43" height="28" fill="#D5E8D4" stroke="#82B366" stroke-width="2"/>
<rect x="1972" y="1729" width="42" height="28" fill="#F8CECC" stroke="#E05050" stroke-width="2"/>
<use href="#otY" x="1877" y="1685"/><use href="#otY" x="1993" y="1656"/>
<text x="1836" y="1751" text-anchor="middle">W<tspan font-size="15" dy="4">Q</tspan></text>
<text x="1915" y="1751" text-anchor="middle">W<tspan font-size="15" dy="4">K</tspan></text>
<text x="1993" y="1751" text-anchor="middle">W<tspan font-size="15" dy="4">V</tspan></text>
<text x="1842" y="1720" font-size="26">Q</text><text x="1922" y="1720" font-size="26">K</text><text x="2000" y="1720" font-size="26">V</text>
<text x="1880" y="1650" font-size="26">A<tspan font-size="16" dy="4">C</tspan></text>
<text x="1950" y="1625" font-size="26">M<tspan font-size="16" dy="4">C</tspan></text>
<text x="1916" y="1836" text-anchor="middle" font-weight="bold" font-size="22">Context</text>
</g>
<g class="r" font-size="24">
<g opacity="0.3">
<g stroke="#555" stroke-width="3" fill="none">
<path d="M2213,1810 V1790"/><path d="M2170,1759 V1730 H2141"/><path d="M2222,1759 V1681 H2181"/><path d="M2275,1759 V1643 H2219"/>
</g>
<circle cx="2213" cy="1810" r="5" fill="#555"/>
<rect x="2143" y="1759" width="155" height="29" fill="#D5E8D4" stroke="#82B366" stroke-width="2"/>
<text x="2220" y="1780" text-anchor="middle" font-size="18">Standard Attention</text>
<text x="2175" y="1750" font-size="24">Q</text><text x="2205" y="1722" font-size="24">A<tspan font-size="15" dy="4">C</tspan></text><text x="2262" y="1680" font-size="24">V</text>
<text x="2213" y="1836" text-anchor="middle" font-weight="bold" font-size="22">Context</text>
</g>
<g stroke="#555" stroke-width="3" fill="none">
<path d="M2079,1810 V1790" marker-end="url(#my)"/>
<path d="M2079,1759 V1716 H2104" marker-end="url(#my)"/>
<path d="M2123,1699 V1681 H2143" marker-end="url(#my)"/>
<path d="M2162,1664 V1643 H2181" marker-end="url(#my)"/>
<path d="M2200,1626 V1598" marker-end="url(#my)"/>
</g>
<circle cx="2079" cy="1810" r="5" fill="#555"/>
<rect x="2057" y="1759" width="45" height="29" fill="#FFF2CC" stroke="#D6A400" stroke-width="2"/>
<text x="2079" y="1781" text-anchor="middle">W<tspan font-size="15" dy="4">E</tspan></text>
<use href="#otY" x="2123" y="1716"/><use href="#opY" x="2162" y="1681"/><use href="#otY" x="2200" y="1643"/>
<text x="2086" y="1748" font-size="26">E</text>
<text x="2094" y="1690" font-size="26">A<tspan font-size="16" dy="4">G</tspan></text>
<text x="2165" y="1628" font-size="26">A</text>
<text x="2210" y="1620" font-size="26">M<tspan font-size="16" dy="4">C</tspan></text>
<text x="2079" y="1836" text-anchor="middle" font-weight="bold" font-size="22">Geometry</text>
</g>
<g class="r" font-size="24">
<g opacity="0.3">
<g stroke="#555" stroke-width="3" fill="none">
<path d="M2397,1797 V1790"/><path d="M2397,1759 V1716 H2423"/><path d="M2440,1699 V1681 H2463"/><path d="M2480,1664 V1645 H2501"/><path d="M2518,1628 V1598"/>
<path d="M2490,1759 V1730 H2458"/><path d="M2545,1759 V1681 H2497"/><path d="M2590,1759 V1645 H2535"/><path d="M2528,1810 V1790"/>
</g>
<rect x="2376" y="1759" width="43" height="29" fill="#FFF2CC" stroke="#D6A400" stroke-width="2"/>
<text x="2397" y="1781" text-anchor="middle">W<tspan font-size="15" dy="4">E</tspan></text>
<rect x="2460" y="1759" width="154" height="29" fill="#D5E8D4" stroke="#82B366" stroke-width="2"/>
<text x="2537" y="1780" text-anchor="middle" font-size="18">Standard Attention</text>
<use href="#otY" x="2440" y="1716"/><use href="#opY" x="2480" y="1681"/><use href="#otY" x="2518" y="1645"/>
<text x="2402" y="1748" font-size="24">E</text><text x="2492" y="1748" font-size="24">Q</text>
<text x="2445" y="1690" font-size="24">A<tspan font-size="15" dy="4">G</tspan></text>
<text x="2525" y="1722" font-size="24">A<tspan font-size="15" dy="4">C</tspan></text>
<text x="2575" y="1680" font-size="24">V</text><text x="2485" y="1632" font-size="24">A</text>
<text x="2530" y="1620" font-size="24">M<tspan font-size="15" dy="4">C</tspan></text>
<circle cx="2528" cy="1810" r="5" fill="#555"/>
<text x="2528" y="1836" text-anchor="middle" font-weight="bold" font-size="22">Context</text>
</g>
<g stroke="#555" stroke-width="3" fill="none">
<path d="M2397,1810 V1797 H2338 V1790" marker-end="url(#my)"/>
<path d="M2338,1759 V1645 H2363" marker-end="url(#my)"/>
<path d="M2382,1628 V1598" marker-end="url(#my)"/>
</g>
<circle cx="2397" cy="1810" r="5" fill="#555"/>
<rect x="2316" y="1759" width="45" height="29" fill="#E1C4F2" stroke="#9040C0" stroke-width="2"/>
<text x="2338" y="1781" text-anchor="middle">W<tspan font-size="15" dy="4">G</tspan></text>
<use href="#otY" x="2382" y="1645"/>
<text x="2344" y="1712" font-size="26">G</text>
<text x="2342" y="1622" font-size="26">M<tspan font-size="16" dy="4">G</tspan></text>
<text x="2397" y="1836" text-anchor="middle" font-weight="bold" font-size="22">Geometry</text>
</g>
<g class="r" font-size="26" text-anchor="middle">
<text x="1918" y="1889">(a). Standard Attention</text>
<text x="2181" y="1887">(b). GeoTrans</text>
<text x="2469" y="1887">(c). PAM (Ours)</text>
</g>

<!-- (2) Aggregation -->
<use href="#arwS" x="1815" y="1969"/>
<text class="s bi" x="1879" y="1986" font-size="48">(2). Aggregation</text>
<rect x="1870" y="2058" width="716" height="409" rx="45" fill="#D2D2D2"/>
<rect x="1864" y="2052" width="716" height="409" rx="45" fill="#E7E7E7"/>
<rect x="1878" y="2072" width="317" height="341" rx="38" fill="#fff" stroke="#444" stroke-width="3"/>
<rect x="2222" y="2072" width="249" height="300" rx="38" fill="#fff" stroke="#444" stroke-width="3"/>
<rect x="1907" y="2081" width="58" height="148" rx="8" fill="#F4B6B6"/>
<rect x="1907" y="2247" width="58" height="149" rx="8" fill="#C5E0B4"/>
<g class="r bi" font-size="22" text-anchor="middle">
<text transform="translate(1933,2155) rotate(-90)">Geometry</text>
<text transform="translate(1956,2155) rotate(-90)">Projection</text>
<text transform="translate(1933,2321) rotate(-90)">Context</text>
<text transform="translate(1956,2321) rotate(-90)">Projection</text>
</g>
<line x1="1878" y1="2241" x2="2195" y2="2241" stroke="#111" stroke-width="2.5" stroke-dasharray="8,5"/>
<rect x="1991" y="2212" width="136" height="59" rx="8" fill="#9DC3E6" stroke="#7FA7D0" stroke-width="2"/>
<rect x="2296" y="2215" width="130" height="59" rx="8" fill="#9DC3E6" stroke="#7FA7D0" stroke-width="2"/>
<g fill="none" stroke-width="3.5">
<path d="M1852,2157 H1905" stroke="#D00000" marker-end="url(#mr)"/>
<path d="M1965,2157 H2133" stroke="#D00000" marker-end="url(#mr)"/>
<path d="M2040,2157 V2210" stroke="#D00000" marker-end="url(#mr)"/>
<path d="M2162,2157 H2215 Q2249,2157 2249,2190 V2226" stroke="#D00000" marker-end="url(#mr)"/>
<path d="M1852,2320 H1905" stroke="#4C9A2A" marker-end="url(#mg)"/>
<path d="M1965,2320 H2133" stroke="#4C9A2A" marker-end="url(#mg)"/>
<path d="M2062,2320 V2273" stroke="#4C9A2A" marker-end="url(#mg)"/>
<path d="M2162,2320 H2215 Q2249,2320 2249,2290 V2256" stroke="#4C9A2A" marker-end="url(#mg)"/>
<path d="M2127,2225 H2138 Q2148,2225 2148,2210 V2172" stroke="#2E75B6" marker-end="url(#mb)"/>
<path d="M2127,2258 H2138 Q2148,2258 2148,2275 V2307" stroke="#2E75B6" marker-end="url(#mb)"/>
<path d="M2263,2241 H2294" stroke="#2E75B6" marker-end="url(#mb)"/>
<path d="M2274,2062 V2150 Q2274,2165 2290,2165 H2345" stroke="#4C9A2A" marker-end="url(#mg)"/>
<path d="M2450,2064 V2150 Q2450,2165 2434,2165 H2375" stroke="#D00000" marker-end="url(#mr)"/>
<path d="M2360,2179 V2213" stroke="#2E75B6" marker-end="url(#mb)"/>
<path d="M2426,2226 H2621" stroke="#2E75B6" marker-end="url(#mb)"/>
<path d="M2488,2226 Q2509,2226 2509,2200 V2172" stroke="#2E75B6" marker-end="url(#mb)"/>
<path d="M2426,2260 H2621" stroke="#C8960C" marker-end="url(#mo)"/>
<path d="M2488,2260 Q2509,2260 2509,2285 V2312" stroke="#C8960C" marker-end="url(#mo)"/>
<path d="M1817,2215 V2178" stroke="#D00000" marker-end="url(#mr)"/>
<path d="M1817,2262 V2302" stroke="#4C9A2A" marker-end="url(#mg)"/>
</g>
<circle cx="1852" cy="2157" r="5" fill="#D00000"/><circle cx="1852" cy="2320" r="5" fill="#4C9A2A"/>
<circle cx="2274" cy="2062" r="5" fill="#4C9A2A"/><circle cx="2450" cy="2064" r="5" fill="#D00000"/>
<circle cx="1817" cy="2262" r="4" fill="#4C9A2A"/>
<use href="#otK" x="2148" y="2157"/><use href="#otK" x="2148" y="2322"/>
<use href="#opK" x="2249" y="2241"/><use href="#opK" x="2360" y="2165"/>
<g class="r i" text-anchor="middle">
<text x="2059" y="2237" font-size="25">Self-</text><text x="2059" y="2263" font-size="25">Attention</text>
<text x="2361" y="2240" font-size="25">Cross</text><text x="2361" y="2266" font-size="25">Attention</text>
<text x="2361" y="2100" font-size="24">From</text><text x="2361" y="2136" font-size="30">Q′</text>
<text x="2149" y="2110" font-size="20" fill="#D00000">Geometry</text><text x="2149" y="2131" font-size="20" fill="#D00000">Branch</text>
<text x="2149" y="2363" font-size="20" fill="#4C9A2A">Context</text><text x="2149" y="2384" font-size="20" fill="#4C9A2A">Branch</text>
<text x="2054" y="2405" font-size="30" fill="#777">Self-Attention</text>
<text x="2350" y="2363" font-size="30" fill="#777">Cross-Attention</text>
<text x="2214" y="2450" font-size="30">Global Transformer</text>
<text x="2533" y="2127" font-size="24">Update</text>
<text x="2533" y="2331" font-size="24">Update</text>
<text x="2599" y="2214" font-size="32">P̃′</text><text x="2599" y="2304" font-size="32">Q̃′</text>
<text x="1817" y="2244" font-size="32">P′</text>
</g>
<g class="r" text-anchor="middle" font-size="26">
<text x="2533" y="2157">X′ ← X̃′</text>
<text x="2531" y="2362">Y′ ← Ỹ′</text>
<text x="1823" y="2169" font-size="30">P′</text>
<text x="1823" y="2331" font-size="30">X′</text>
</g>
<rect x="2370" y="2413" width="208" height="45" rx="4" fill="#fff" stroke="#222" stroke-width="2.5"/>
<text class="r i" x="2474" y="2444" font-size="28" text-anchor="middle">Repeat  g  times</text>

<g class="s bi" font-size="47" fill="#000">
<text x="2419" y="1066">Attentional Aggregation Layer (AAL):</text>
<text x="2419" y="1124">Encode the pose-agnostic geometry</text>
<text x="2419" y="1180" class="pre">around downsampled  superpoints;</text>
<text x="2419" y="1297">PPF<tspan font-size="30" dy="-18">[2]</tspan><tspan dy="18"> Attention Layer (PAL):</tspan></text>
<text x="2419" y="1355">Context exchange among adjacent</text>
<text x="2419" y="1410">superpoints.</text>
<text x="2677" y="1611">Different Self-Attention</text>
<text x="2677" y="1668">Mechanism:</text>
<text x="2677" y="1724">(1): Standard Attention<tspan font-size="30" dy="-18">[3]</tspan><tspan dy="18">;</tspan></text>
<text x="2677" y="1781">(2): GeoTrans Attention<tspan font-size="30" dy="-18">[4]</tspan><tspan dy="18">;</tspan></text>
<text x="2677" y="1838">(3): PAM Attention (Ours).</text>
<text x="2680" y="1977">Self-Attention:</text>
<text x="2734" y="2034"><tspan fill="#76923C">Context branch:</tspan> Global</text>
<text x="2680" y="2091">feature aggregation;</text>
<text x="2734" y="2148"><tspan fill="#FF0000">Geometry branch:</tspan> Global</text>
<text x="2680" y="2205">position representation.</text>
<text x="2680" y="2299">Cross-Attention: Cross-frame</text>
<text x="2680" y="2356">aggregation with awareness</text>
<text x="2680" y="2413">to cross-frame spatial</text>
<text x="2680" y="2469">relationships.</text>
</g>

<!-- ================= RIGHT COLUMN ================= -->
<rect x="3496" y="428" width="33" height="35" fill="#0000FF"/>
<rect x="3490" y="422" width="33" height="35" fill="#fff" stroke="#0000FF" stroke-width="5"/>
<text class="s b" x="3556" y="464" font-size="58" fill="#0000FF">Results</text>
<use href="#arwS" x="3471" y="536"/>
<text class="s bi" x="3535" y="552" font-size="45">Rigid Matching and Registration on Indoor Scenes<tspan font-size="29" dy="-17">[1, 5]</tspan></text>

<g class="r" font-size="26">
<line x1="3537" y1="608" x2="4206" y2="608" stroke="#000" stroke-width="3"/>
<text x="3866" y="638" text-anchor="middle" font-weight="bold">3DMatch</text>
<text x="4090" y="638" text-anchor="middle" font-weight="bold">3DLoMatch</text>
<text y="665"><tspan x="3554"># Samples=5,000</tspan><tspan x="3810" text-anchor="middle">Origin</tspan><tspan x="3921" text-anchor="middle">Rotated</tspan><tspan x="3982" text-anchor="middle">|</tspan><tspan x="4035" text-anchor="middle">Origin</tspan><tspan x="4146" text-anchor="middle">Rotated</tspan></text>
<line x1="3537" y1="678" x2="4206" y2="678" stroke="#000" stroke-width="2"/>
<line x1="3537" y1="683" x2="4206" y2="683" stroke="#000" stroke-width="2"/>
<text x="3982" y="713" text-anchor="middle" font-style="italic">Feature Matching Recall (%) ↑</text>
<line x1="3537" y1="724" x2="4206" y2="724" stroke="#000" stroke-width="2"/>
<line x1="3537" y1="943" x2="4206" y2="943" stroke="#000" stroke-width="2"/>
<text x="3982" y="972" text-anchor="middle" font-style="italic">Inlier Ratio (%) ↑</text>
<line x1="3537" y1="985" x2="4206" y2="985" stroke="#000" stroke-width="2"/>
<line x1="3537" y1="1203" x2="4206" y2="1203" stroke="#000" stroke-width="2"/>
<text x="3982" y="1231" text-anchor="middle" font-style="italic">Registration Recall (%) ↑</text>
<line x1="3537" y1="1244" x2="4206" y2="1244" stroke="#000" stroke-width="2"/>
<line x1="3537" y1="1465" x2="4206" y2="1465" stroke="#000" stroke-width="3"/>
<g stroke="#000" stroke-width="1.5"><line x1="3982" y1="730" x2="3982" y2="938"/><line x1="3982" y1="990" x2="3982" y2="1198"/><line x1="3982" y1="1249" x2="3982" y2="1460"/></g>

<text y="752"><tspan x="3554">SpinNet [<tspan fill="#00C000">1</tspan>]</tspan><tspan x="3810" text-anchor="middle">97.4</tspan><tspan x="3921" text-anchor="middle">97.4</tspan><tspan x="4035" text-anchor="middle">75.5</tspan><tspan x="4146" text-anchor="middle">75.2</tspan></text>
<text y="778"><tspan x="3554">Predator [<tspan fill="#00C000">19</tspan>]</tspan><tspan x="3810" text-anchor="middle">96.6</tspan><tspan x="3921" text-anchor="middle">96.2</tspan><tspan x="4035" text-anchor="middle">78.6</tspan><tspan x="4146" text-anchor="middle">73.7</tspan></text>
<text y="803"><tspan x="3554">CoFiNet [<tspan fill="#00C000">50</tspan>]</tspan><tspan x="3810" text-anchor="middle">98.1</tspan><tspan x="3921" text-anchor="middle">97.4</tspan><tspan x="4035" text-anchor="middle">83.1</tspan><tspan x="4146" text-anchor="middle">78.6</tspan></text>
<text y="829"><tspan x="3554">YOHO [<tspan fill="#00C000">44</tspan>]</tspan><tspan x="3810" text-anchor="middle" font-weight="bold">98.2</tspan><tspan x="3921" text-anchor="middle">97.8</tspan><tspan x="4035" text-anchor="middle">79.4</tspan><tspan x="4146" text-anchor="middle">77.8</tspan></text>
<text y="854"><tspan x="3554">RIGA [<tspan fill="#00C000">49</tspan>]</tspan><tspan x="3810" text-anchor="middle">97.9</tspan><tspan x="3921" text-anchor="middle" font-weight="bold">98.2</tspan><tspan x="4035" text-anchor="middle">85.1</tspan><tspan x="4146" text-anchor="middle">84.5</tspan></text>
<text y="880"><tspan x="3554">Lepard [<tspan fill="#00C000">20</tspan>]</tspan><tspan x="3810" text-anchor="middle">98.0</tspan><tspan x="3921" text-anchor="middle">97.4</tspan><tspan x="4035" text-anchor="middle">83.1</tspan><tspan x="4146" text-anchor="middle">79.5</tspan></text>
<text y="906"><tspan x="3554">GeoTrans [<tspan fill="#00C000">27</tspan>]</tspan><tspan x="3810" text-anchor="middle">97.9</tspan><tspan x="3921" text-anchor="middle">97.8</tspan><tspan x="4035" text-anchor="middle">88.3</tspan><tspan x="4146" text-anchor="middle">85.8</tspan></text>
<text y="931"><tspan x="3554">RoITr (<tspan font-style="italic">Ours</tspan>)</tspan><tspan x="3810" text-anchor="middle">98.0</tspan><tspan x="3921" text-anchor="middle" font-weight="bold">98.2</tspan><tspan x="4035" text-anchor="middle" font-weight="bold">89.6</tspan><tspan x="4146" text-anchor="middle" font-weight="bold">89.4</tspan></text>

<text y="1012"><tspan x="3554">SpinNet [<tspan fill="#00C000">1</tspan>]</tspan><tspan x="3810" text-anchor="middle">48.5</tspan><tspan x="3921" text-anchor="middle">48.7</tspan><tspan x="4035" text-anchor="middle">25.7</tspan><tspan x="4146" text-anchor="middle">25.7</tspan></text>
<text y="1038"><tspan x="3554">Predator [<tspan fill="#00C000">19</tspan>]</tspan><tspan x="3810" text-anchor="middle">58.0</tspan><tspan x="3921" text-anchor="middle">52.8</tspan><tspan x="4035" text-anchor="middle">26.7</tspan><tspan x="4146" text-anchor="middle">22.4</tspan></text>
<text y="1063"><tspan x="3554">CoFiNet [<tspan fill="#00C000">50</tspan>]</tspan><tspan x="3810" text-anchor="middle">49.8</tspan><tspan x="3921" text-anchor="middle">46.8</tspan><tspan x="4035" text-anchor="middle">24.4</tspan><tspan x="4146" text-anchor="middle">21.5</tspan></text>
<text y="1089"><tspan x="3554">YOHO [<tspan fill="#00C000">44</tspan>]</tspan><tspan x="3810" text-anchor="middle">64.4</tspan><tspan x="3921" text-anchor="middle">64.1</tspan><tspan x="4035" text-anchor="middle">25.9</tspan><tspan x="4146" text-anchor="middle">23.2</tspan></text>
<text y="1114"><tspan x="3554">RIGA [<tspan fill="#00C000">49</tspan>]</tspan><tspan x="3810" text-anchor="middle">68.4</tspan><tspan x="3921" text-anchor="middle">68.5</tspan><tspan x="4035" text-anchor="middle">32.1</tspan><tspan x="4146" text-anchor="middle">32.1</tspan></text>
<text y="1140"><tspan x="3554">Lepard [<tspan fill="#00C000">20</tspan>]</tspan><tspan x="3810" text-anchor="middle">58.6</tspan><tspan x="3921" text-anchor="middle">53.7</tspan><tspan x="4035" text-anchor="middle">28.4</tspan><tspan x="4146" text-anchor="middle">24.4</tspan></text>
<text y="1166"><tspan x="3554">GeoTrans [<tspan fill="#00C000">27</tspan>]</tspan><tspan x="3810" text-anchor="middle">71.9</tspan><tspan x="3921" text-anchor="middle">68.2</tspan><tspan x="4035" text-anchor="middle">43.5</tspan><tspan x="4146" text-anchor="middle">40.0</tspan></text>
<text y="1191"><tspan x="3554">RoITr (<tspan font-style="italic">Ours</tspan>)</tspan><tspan x="3810" text-anchor="middle" font-weight="bold">82.6</tspan><tspan x="3921" text-anchor="middle" font-weight="bold">82.3</tspan><tspan x="4035" text-anchor="middle" font-weight="bold">54.3</tspan><tspan x="4146" text-anchor="middle" font-weight="bold">53.2</tspan></text>

<text y="1271"><tspan x="3554">SpinNet [<tspan fill="#00C000">1</tspan>]</tspan><tspan x="3810" text-anchor="middle">88.8</tspan><tspan x="3921" text-anchor="middle">93.2</tspan><tspan x="4035" text-anchor="middle">58.2</tspan><tspan x="4146" text-anchor="middle">61.8</tspan></text>
<text y="1297"><tspan x="3554">Predator [<tspan fill="#00C000">19</tspan>]</tspan><tspan x="3810" text-anchor="middle">89.0</tspan><tspan x="3921" text-anchor="middle">92.0</tspan><tspan x="4035" text-anchor="middle">59.8</tspan><tspan x="4146" text-anchor="middle">58.6</tspan></text>
<text y="1322"><tspan x="3554">CoFiNet [<tspan fill="#00C000">50</tspan>]</tspan><tspan x="3810" text-anchor="middle">89.3</tspan><tspan x="3921" text-anchor="middle">92.0</tspan><tspan x="4035" text-anchor="middle">67.5</tspan><tspan x="4146" text-anchor="middle">62.5</tspan></text>
<text y="1348"><tspan x="3554">YOHO [<tspan fill="#00C000">44</tspan>]</tspan><tspan x="3810" text-anchor="middle">90.8</tspan><tspan x="3921" text-anchor="middle">92.5</tspan><tspan x="4035" text-anchor="middle">65.2</tspan><tspan x="4146" text-anchor="middle">66.8</tspan></text>
<text y="1374"><tspan x="3554">RIGA [<tspan fill="#00C000">49</tspan>]</tspan><tspan x="3810" text-anchor="middle">89.3</tspan><tspan x="3921" text-anchor="middle">93.0</tspan><tspan x="4035" text-anchor="middle">65.1</tspan><tspan x="4146" text-anchor="middle">66.9</tspan></text>
<text y="1399"><tspan x="3554">Lepard [<tspan fill="#00C000">20</tspan>]</tspan><tspan x="3810" text-anchor="middle" font-weight="bold">92.7</tspan><tspan x="3921" text-anchor="middle">84.9</tspan><tspan x="4035" text-anchor="middle">65.4</tspan><tspan x="4146" text-anchor="middle">49.0</tspan></text>
<text y="1425"><tspan x="3554">GeoTrans [<tspan fill="#00C000">27</tspan>]</tspan><tspan x="3810" text-anchor="middle">92.0</tspan><tspan x="3921" text-anchor="middle">92.0</tspan><tspan x="4035" text-anchor="middle" font-weight="bold">75.0</tspan><tspan x="4146" text-anchor="middle">71.8</tspan></text>
<text y="1451"><tspan x="3554">RoITr (<tspan font-style="italic">Ours</tspan>)</tspan><tspan x="3810" text-anchor="middle">91.9</tspan><tspan x="3921" text-anchor="middle" font-weight="bold">94.7</tspan><tspan x="4035" text-anchor="middle">74.8</tspan><tspan x="4146" text-anchor="middle" font-weight="bold">77.2</tspan></text>
<g stroke="#000" stroke-width="1.5">
<line x1="3788" y1="808" x2="3832" y2="808"/><line x1="4013" y1="911" x2="4057" y2="911"/><line x1="4124" y1="911" x2="4168" y2="911"/>
<line x1="3899" y1="1119" x2="3943" y2="1119"/><line x1="3788" y1="1171" x2="3832" y2="1171"/><line x1="4013" y1="1171" x2="4057" y2="1171"/><line x1="4124" y1="1171" x2="4168" y2="1171"/>
<line x1="3899" y1="1276" x2="3943" y2="1276"/><line x1="3899" y1="1302" x2="3943" y2="1302"/><line x1="3788" y1="1430" x2="3832" y2="1430"/><line x1="4124" y1="1430" x2="4168" y2="1430"/><line x1="4013" y1="1456" x2="4057" y2="1456"/>
</g>
</g>

<text class="r" x="4660" y="629" font-size="29" text-anchor="middle">Correspondences on 3DLoMatch</text>
<g>
<polygon points="4307,665 4370,657 4408,662 4408,731 4470,712 4472,787 4420,790 4355,770 4320,720 4307,700" fill="#F2C11B"/>
<polygon points="4330,735 4400,750 4420,785 4360,780" fill="#C9960C"/>
<polygon points="4505,690 4560,682 4590,700 4585,760 4590,794 4520,794 4504,760" fill="#2BA8E0"/>
<polygon points="4390,705 4545,700 4548,765 4395,768" fill="#FF2A2A" opacity="0.88"/>
<g stroke="#FF3030" stroke-width="1.2"><line x1="4380" y1="700" x2="4555" y2="690"/><line x1="4385" y1="775" x2="4550" y2="770"/><line x1="4372" y1="740" x2="4560" y2="735"/></g>
<polygon points="4674,665 4737,657 4775,662 4775,731 4837,712 4839,787 4787,790 4722,770 4687,720 4674,700" fill="#F2C11B"/>
<polygon points="4697,735 4767,750 4787,785 4727,780" fill="#C9960C"/>
<polygon points="4872,690 4927,682 4957,700 4952,760 4957,794 4887,794 4871,760" fill="#2BA8E0"/>
<polygon points="4757,708 4912,704 4915,765 4762,768" fill="#22DD22" opacity="0.85"/>
<g stroke="#FF3030" stroke-width="1.2"><line x1="4750" y1="700" x2="4920" y2="720"/><line x1="4760" y1="760" x2="4915" y2="745"/></g>
<polygon points="4251,905 4290,870 4330,860 4350,880 4372,930 4330,965 4270,969 4251,940" fill="#2BA8E0"/>
<polygon points="4325,836 4352,840 4360,900 4335,905" fill="#2BA8E0"/>
<polygon points="4440,850 4540,836 4610,870 4617,935 4560,941 4470,910 4436,880" fill="#F2C11B"/>
<polygon points="4470,900 4560,915 4600,938 4545,941" fill="#C9960C"/>
<polygon points="4315,950 4352,968 4545,868 4515,846" fill="#FF2020" opacity="0.9"/>
<g stroke="#FF3030" stroke-width="1.2"><line x1="4330" y1="900" x2="4480" y2="850"/><line x1="4300" y1="930" x2="4440" y2="870"/></g>
<polygon points="4620,905 4659,870 4699,860 4719,880 4741,930 4699,965 4639,969 4620,940" fill="#2BA8E0"/>
<polygon points="4694,836 4721,840 4729,900 4704,905" fill="#2BA8E0"/>
<polygon points="4807,850 4907,836 4977,870 4984,935 4927,941 4837,910 4803,880" fill="#F2C11B"/>
<polygon points="4837,900 4927,915 4967,938 4912,941" fill="#C9960C"/>
<polygon points="4728,866 4866,862 4866,903 4728,906" fill="#22DD22" opacity="0.9"/>
<g stroke="#FF3030" stroke-width="1.2"><line x1="4740" y1="930" x2="4880" y2="890"/></g>
<polygon points="4270,1040 4330,1030 4390,1035 4385,1110 4300,1116 4272,1100" fill="#F2C11B"/>
<polygon points="4275,1070 4360,1080 4385,1110 4300,1116" fill="#C9960C"/>
<polygon points="4410,1030 4480,1025 4560,1030 4600,1080 4590,1120 4520,1145 4440,1135 4408,1090" fill="#2BA8E0"/>
<polygon points="4330,1040 4540,1045 4540,1095 4330,1090" fill="#FF2020" opacity="0.88"/>
<g stroke="#20C020" stroke-width="1.5"><line x1="4340" y1="1060" x2="4480" y2="1070"/></g>
<polygon points="4637,1040 4697,1030 4757,1035 4752,1110 4667,1116 4639,1100" fill="#F2C11B"/>
<polygon points="4642,1070 4727,1080 4752,1110 4667,1116" fill="#C9960C"/>
<polygon points="4777,1030 4847,1025 4927,1030 4967,1080 4957,1120 4887,1145 4807,1135 4775,1090" fill="#2BA8E0"/>
<polygon points="4700,1040 4900,1045 4900,1070 4700,1066" fill="#FF2020" opacity="0.7"/>
<polygon points="4720,1066 4880,1070 4880,1100 4720,1098" fill="#22DD22" opacity="0.85"/>
</g>
<g class="r" font-size="26" text-anchor="middle">
<rect x="4451" y="645" width="136" height="30" rx="3" fill="#fff" stroke="#000" stroke-width="2.5"/><text x="4519" y="669">IR: 6.6%</text>
<rect x="4838" y="645" width="138" height="30" rx="3" fill="#fff" stroke="#000" stroke-width="2.5"/><text x="4907" y="669">IR: 85.9%</text>
<rect x="4451" y="806" width="136" height="30" rx="3" fill="#fff" stroke="#000" stroke-width="2.5"/><text x="4519" y="830">IR: 0.0%</text>
<rect x="4838" y="810" width="138" height="30" rx="3" fill="#fff" stroke="#000" stroke-width="2.5"/><text x="4907" y="834">IR: 88.8%</text>
<rect x="4451" y="996" width="136" height="30" rx="3" fill="#fff" stroke="#000" stroke-width="2.5"/><text x="4519" y="1020">IR: 1.9%</text>
<rect x="4838" y="996" width="138" height="30" rx="3" fill="#fff" stroke="#000" stroke-width="2.5"/><text x="4907" y="1020">IR: 67.1%</text>
</g>
<g class="r" font-size="29" text-anchor="middle">
<text x="4428" y="1187">(b). GeoTrans</text>
<text x="4813" y="1186">(c). RoITr (<tspan font-style="italic">Ours</tspan>)</text>
</g>
<g class="s bi" font-size="47" fill="#FF0000">
<text x="4259" y="1279">SoTA performance on 3DMatch<tspan font-size="30" dy="-18">[5]</tspan></text>
<text x="4259" y="1336">and 3DLoMatch<tspan font-size="30" dy="-18">[1]</tspan><tspan dy="18">;</tspan></text>
<text x="4259" y="1393">More significant advantages on</text>
<text x="4259" y="1451">data with enlarged rotations.</text>
</g>

<use href="#arwS" x="3471" y="1530"/>
<text class="s bi" x="3535" y="1546" font-size="45">Non-Rigid Matching on Synthetic Objects<tspan font-size="29" dy="-17">[6]</tspan></text>
<g class="r" font-size="23">
<line x1="3531" y1="1598" x2="4392" y2="1598" stroke="#000" stroke-width="3"/>
<text x="4014" y="1624" text-anchor="middle" font-weight="bold">4DMatch</text>
<text x="4265" y="1624" text-anchor="middle" font-weight="bold">4DLoMatch</text>
<text y="1648"><tspan x="3626" text-anchor="middle">Category</tspan><tspan x="3738">Method</tspan><tspan x="3961" text-anchor="middle">NFMR(%)↑</tspan><tspan x="4087" text-anchor="middle">IR(%)↑</tspan><tspan x="4140" text-anchor="middle">|</tspan><tspan x="4214" text-anchor="middle">NFMR(%)↑</tspan><tspan x="4339" text-anchor="middle">IR(%)↑</tspan></text>
<line x1="3531" y1="1661" x2="4392" y2="1661" stroke="#000" stroke-width="2"/>
<line x1="3531" y1="1666" x2="4392" y2="1666" stroke="#000" stroke-width="2"/>
<line x1="3531" y1="1728" x2="4392" y2="1728" stroke="#000" stroke-width="2"/>
<line x1="3531" y1="1842" x2="4392" y2="1842" stroke="#000" stroke-width="3"/>
<g stroke="#000" stroke-width="1.5">
<line x1="3724" y1="1604" x2="3724" y2="1658"/><line x1="3724" y1="1673" x2="3724" y2="1722"/><line x1="3724" y1="1735" x2="3724" y2="1838"/>
<line x1="3889" y1="1604" x2="3889" y2="1658"/><line x1="3889" y1="1673" x2="3889" y2="1722"/><line x1="3889" y1="1735" x2="3889" y2="1838"/>
<line x1="4140" y1="1673" x2="4140" y2="1722"/><line x1="4140" y1="1735" x2="4140" y2="1838"/>
</g>
<text x="3626" y="1705" text-anchor="middle">Scene Flow</text>
<text x="3626" y="1793" text-anchor="middle">Feature Matching</text>
<text y="1693"><tspan x="3738">PWC [<tspan fill="#00C000">45</tspan>]</tspan><tspan x="3961" text-anchor="middle">21.6</tspan><tspan x="4087" text-anchor="middle">20.0</tspan><tspan x="4214" text-anchor="middle">10.0</tspan><tspan x="4339" text-anchor="middle">7.2</tspan></text>
<text y="1717"><tspan x="3738">FLOT [<tspan fill="#00C000">24</tspan>]</tspan><tspan x="3961" text-anchor="middle">27.1</tspan><tspan x="4087" text-anchor="middle">24.9</tspan><tspan x="4214" text-anchor="middle">15.2</tspan><tspan x="4339" text-anchor="middle">10.7</tspan></text>
<text y="1753"><tspan x="3738">Predator [<tspan fill="#00C000">19</tspan>]</tspan><tspan x="3961" text-anchor="middle">56.4</tspan><tspan x="4087" text-anchor="middle">60.4</tspan><tspan x="4214" text-anchor="middle">32.1</tspan><tspan x="4339" text-anchor="middle">27.5</tspan></text>
<text y="1779"><tspan x="3738">GeoTrans [<tspan fill="#00C000">27</tspan>]</tspan><tspan x="3961" text-anchor="middle">83.2</tspan><tspan x="4087" text-anchor="middle">82.2</tspan><tspan x="4214" text-anchor="middle">65.4</tspan><tspan x="4339" text-anchor="middle">63.6</tspan></text>
<text y="1805"><tspan x="3738">Lepard [<tspan fill="#00C000">20</tspan>]</tspan><tspan x="3961" text-anchor="middle" font-weight="bold">83.7</tspan><tspan x="4087" text-anchor="middle">82.7</tspan><tspan x="4214" text-anchor="middle">66.9</tspan><tspan x="4339" text-anchor="middle">55.7</tspan></text>
<text y="1830"><tspan x="3738">RoITr (<tspan font-style="italic">Ours</tspan>)</tspan><tspan x="3961" text-anchor="middle">83.0</tspan><tspan x="4087" text-anchor="middle" font-weight="bold">84.4</tspan><tspan x="4214" text-anchor="middle" font-weight="bold">69.4</tspan><tspan x="4339" text-anchor="middle" font-weight="bold">67.6</tspan></text>
<g stroke="#000" stroke-width="1.5">
<line x1="3942" y1="1784" x2="3980" y2="1784"/><line x1="4320" y1="1784" x2="4358" y2="1784"/><line x1="4068" y1="1810" x2="4106" y2="1810"/><line x1="4195" y1="1810" x2="4233" y2="1810"/>
</g>
</g>
<text class="r" x="4698" y="1563" font-size="28" text-anchor="middle">Correspondences on 4DLoMatch</text>
<g>
<polygon points="4470,1585 4680,1722 4640,1805 4478,1800" fill="#FF2020" opacity="0.55"/>
<g stroke="#FF2020" stroke-width="1.3"><line x1="4470" y1="1580" x2="4690" y2="1730"/><line x1="4475" y1="1620" x2="4680" y2="1760"/><line x1="4480" y1="1700" x2="4650" y2="1800"/><line x1="4485" y1="1760" x2="4630" y2="1805"/></g>
<polygon points="4452,1578 4470,1573 4485,1590 4482,1630 4500,1700 4505,1800 4490,1804 4478,1720 4465,1720 4462,1800 4451,1800 4455,1700 4458,1620" fill="#F2C11B"/>
<polygon points="4575,1720 4620,1705 4665,1720 4685,1735 4680,1760 4650,1790 4640,1810 4625,1812 4620,1790 4600,1790 4590,1811 4575,1810 4580,1770" fill="#2BA8E0"/>
<polygon points="4790,1585 5000,1722 4960,1805 4798,1800" fill="#22DD22" opacity="0.6"/>
<g stroke="#22DD22" stroke-width="1.3"><line x1="4790" y1="1580" x2="5010" y2="1730"/><line x1="4795" y1="1620" x2="5000" y2="1760"/><line x1="4800" y1="1700" x2="4970" y2="1800"/></g>
<line x1="4790" y1="1578" x2="5005" y2="1725" stroke="#FF2020" stroke-width="2"/>
<polygon points="4772,1578 4790,1573 4805,1590 4802,1630 4820,1700 4825,1800 4810,1804 4798,1720 4785,1720 4782,1800 4771,1800 4775,1700 4778,1620" fill="#F2C11B"/>
<polygon points="4895,1720 4940,1705 4985,1720 5005,1735 5000,1760 4970,1790 4960,1810 4945,1812 4940,1790 4920,1790 4910,1811 4895,1810 4900,1770" fill="#2BA8E0"/>

<polygon points="4470,1860 4665,1890 4695,2085 4450,2085" fill="#FF2020" opacity="0.5"/>
<g stroke="#FF2020" stroke-width="1.2"><line x1="4470" y1="1900" x2="4660" y2="1930"/><line x1="4470" y1="1960" x2="4690" y2="1990"/><line x1="4470" y1="2020" x2="4690" y2="2040"/><line x1="4460" y1="2075" x2="4690" y2="2080"/></g>
<circle cx="4462" cy="1858" r="14" fill="#F2C11B"/>
<polygon points="4440,1873 4482,1872 4505,1900 4520,1922 4502,1936 4490,1915 4485,1990 4500,2090 4470,2093 4462,2010 4452,2090 4430,2090 4440,1990 4438,1920 4425,1935 4420,1900" fill="#F2C11B"/>
<circle cx="4662" cy="1893" r="9" fill="#2BA8E0"/>
<polygon points="4642,1903 4682,1903 4697,1960 4690,2000 4702,2088 4682,2090 4667,2010 4652,2090 4632,2088 4642,2000 4627,1960" fill="#2BA8E0"/>
<polygon points="4789,1860 4984,1890 5014,2085 4769,2085" fill="#22DD22" opacity="0.6"/>
<g stroke="#22DD22" stroke-width="1.3"><line x1="4789" y1="1900" x2="4979" y2="1930"/><line x1="4789" y1="1960" x2="5009" y2="1990"/><line x1="4789" y1="2020" x2="5009" y2="2040"/></g>
<circle cx="4781" cy="1858" r="14" fill="#F2C11B"/>
<polygon points="4759,1873 4801,1872 4824,1900 4839,1922 4821,1936 4809,1915 4804,1990 4819,2090 4789,2093 4781,2010 4771,2090 4749,2090 4759,1990 4757,1920 4744,1935 4739,1900" fill="#F2C11B"/>
<circle cx="4981" cy="1893" r="9" fill="#2BA8E0"/>
<polygon points="4961,1903 5001,1903 5016,1960 5009,2000 5021,2088 5001,2090 4986,2010 4971,2090 4951,2088 4961,2000 4946,1960" fill="#2BA8E0"/>
</g>
<g class="r" font-size="28" text-anchor="middle">
<rect x="4531" y="1823" width="154" height="34" rx="4" fill="#fff" stroke="#000" stroke-width="3"/><text x="4608" y="1850">IR: 13.2%</text>
<rect x="4847" y="1823" width="155" height="34" rx="4" fill="#fff" stroke="#000" stroke-width="3"/><text x="4925" y="1850">IR: 91.6%</text>
<rect x="4531" y="2107" width="154" height="34" rx="4" fill="#fff" stroke="#000" stroke-width="3"/><text x="4608" y="2134">IR: 2.6%</text>
<rect x="4847" y="2107" width="155" height="34" rx="4" fill="#fff" stroke="#000" stroke-width="3"/><text x="4925" y="2134">IR: 98.1%</text>
</g>
<g class="r" font-size="29" text-anchor="middle">
<text x="4565" y="2186">(c). Lepard</text>
<text x="4882" y="2186">(d). RoITr (<tspan font-style="italic">Ours</tspan>)</text>
</g>
<g class="s bi" font-size="47" fill="#FF0000">
<text x="3541" y="1915">SoTA performance also on the non-</text>
<text x="3541" y="1972">rigid matching task;</text>
<text x="3541" y="2031">Better performance than Lepard<tspan font-size="30" dy="-18">[6]</tspan></text>
<text x="3541" y="2089">that is specifically designed for non-</text>
<text x="3541" y="2146">rigid scenarios.</text>
</g>

<g class="s" font-size="35" fill="#000">
<text x="3431" y="2217">References:</text>
<text x="3431" y="2259">[1] Huang et al. Predator: Registration of 3D Point Clouds with Low Overlap, CVPR 2021;</text>
<text x="3431" y="2302">[2] Drost et al. Model Globally, Match Locally: Efficient and Robust 3D Object Recognition, CVPR 2010;</text>
<text x="3431" y="2345">[3] Vaswani et al. Attention is All You Need, NeurIPS 2017;</text>
<text x="3431" y="2388">[4] Qin et al. Geometric Transformer for Fast and Robust Point Cloud Registration, CVPR 2022;</text>
<text x="3431" y="2431">[5] Zeng et al. 3DMatch: Learning Local Geometric Descriptors for RGB-D Reconstructions, CVPR 2017;</text>
<text x="3431" y="2474">[6] Li et al. Lepard: Learning Partial Point Cloud Matching in Rigid and Deformable Scenes, CVPR 2022.</text>
</g>
</svg>
</body></html>
